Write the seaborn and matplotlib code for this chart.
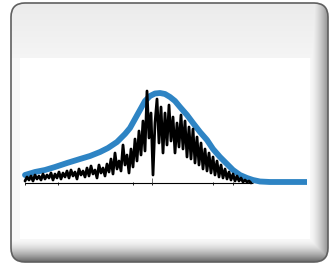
import numpy as np
import matplotlib
matplotlib.use("Agg")
import matplotlib.pyplot as plt
from matplotlib.patches import FancyBboxPatch
import seaborn as sns

# smooth fitted curve (blue)
curve_x = [0, 10, 20, 30, 42, 55, 65, 75, 83, 92, 100, 105, 110, 115, 120, 125, 130,
           135, 140, 145, 150, 155, 162, 168, 175, 182, 188, 195, 202, 208, 215, 222,
           228, 235, 245, 257, 282]
curve_y = [8, 11, 13, 16, 20, 24, 27, 31, 35, 41, 49, 55, 64, 73, 82, 87, 89.5,
           90, 89, 86, 82, 76, 68, 60, 51, 43, 34, 26, 19, 13, 8, 5,
           3, 1.5, 1, 1, 1]

# raw noisy signal (black)
signal_x = list(range(0, 228, 2))
signal_y = [2, 6, 3, 7, 2, 8, 4, 7, 3, 9, 4, 8, 5, 10, 3, 9, 5, 11, 4, 10,
            6, 12, 5, 13, 7, 11, 4, 14, 8, 12, 6, 15, 7, 17, 9, 13, 5, 18, 10, 15,
            7, 19, 11, 24, 9, 30, 14, 22, 12, 38, 18, 28, 10, 34, 16, 44, 22, 52, 28, 62,
            32, 92, 45, 70, 8, 60, 84, 40, 76, 30, 70, 38, 78, 42, 66, 30, 60, 36, 68, 34,
            62, 26, 56, 24, 54, 20, 46, 18, 40, 14, 34, 12, 30, 10, 26, 8, 22, 6, 18, 5,
            14, 4, 11, 3, 9, 2, 7, 2, 5, 1, 3, 1, 2, 0]

baseline_ticks = [0, 33, 108, 127, 188, 208]

sns.set_theme(style="white")
fig = plt.figure(figsize=(3.31, 2.65), dpi=100)
fig.patch.set_facecolor("white")

# ---- icon frame ----
bg = fig.add_axes([0, 0, 1, 1])
bg.set_xlim(0, 331)
bg.set_ylim(265, 0)
bg.axis("off")

H, W = 265, 331
img = np.ones((H, W))
rows = np.arange(H)[:, None]
cols = np.arange(W)[None, :]
top = (rows < 58)
img = np.where(top, 0.92 + 0.04 * (rows / 58.0), img)
left = (rows >= 58) & (cols < 20)
img = np.where(left, 0.97, img)
right = cols >= 310
img = np.where(right, np.minimum(img, 0.97 - 0.45 * np.clip((cols - 310) / 19.0, 0, 1) ** 1.5), img)
bottom = rows >= 239
img = np.where(bottom, np.minimum(img, 0.97 - 0.6 * np.clip((rows - 239) / 23.0, 0, 1) ** 1.6), img)
rgb = np.dstack([img, img, img])

frame = FancyBboxPatch((11, 3), 317, 259, boxstyle="round,pad=0,rounding_size=14",
                       facecolor="none", edgecolor="#606060", linewidth=1.2, zorder=3)
bg.add_patch(frame)
im = bg.imshow(rgb, extent=(0, W, H, 0), interpolation="bilinear", zorder=1)
im.set_clip_path(frame)

# ---- chart ----
ax = fig.add_axes([20 / 331, 20 / 265, 287 / 331, 187 / 265])
ax.set_facecolor("none")
sns.lineplot(x=curve_x, y=curve_y, ax=ax, color="#2e84c4", linewidth=4.2, zorder=2)
sns.lineplot(x=signal_x, y=signal_y, ax=ax, color="black", linewidth=2.0, zorder=3)
ax.hlines(0, 0, 228, color="black", linewidth=0.8, zorder=4)
ax.vlines(baseline_ticks, -1.5, 1.5, color="black", linewidth=0.6, zorder=4)
ax.vlines([127], 0, 5, color="#555555", linewidth=0.6, zorder=4)
ax.set_xlim(-5, 282)
ax.set_ylim(-62, 125)
ax.axis("off")

fig.savefig("out.png", dpi=100, facecolor="white")
